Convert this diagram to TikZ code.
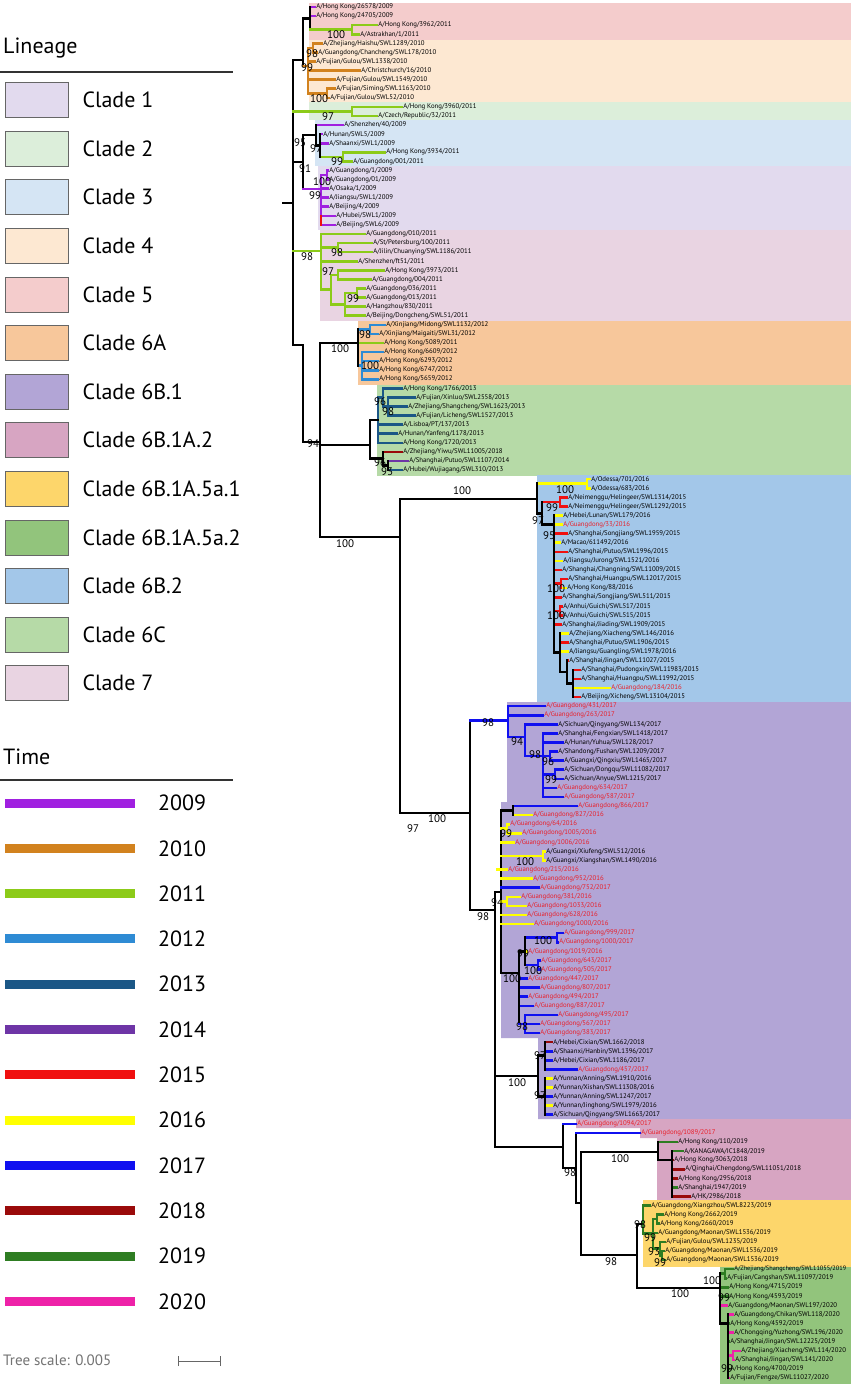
\documentclass[tikz,border=0pt]{standalone}
\usepackage{fontspec}
\setmainfont{PT Sans}
\usetikzlibrary{positioning}

\definecolor{y2009}{HTML}{A020E0}
\definecolor{y2010}{HTML}{D2821E}
\definecolor{y2011}{HTML}{8CCB19}
\definecolor{y2012}{HTML}{2E8BD4}
\definecolor{y2013}{HTML}{1B5786}
\definecolor{y2014}{HTML}{6E35A6}
\definecolor{y2015}{HTML}{F01010}
\definecolor{y2016}{HTML}{FFFF00}
\definecolor{y2017}{HTML}{1010F0}
\definecolor{y2018}{HTML}{9A0A0A}
\definecolor{y2019}{HTML}{2E7D22}
\definecolor{y2020}{HTML}{EE22A8}
\definecolor{cl1}{HTML}{E2DAEE}
\definecolor{cl2}{HTML}{DCEEDA}
\definecolor{cl3}{HTML}{D5E5F4}
\definecolor{cl4}{HTML}{FDE8D2}
\definecolor{cl5}{HTML}{F4CCCC}
\definecolor{cl6A}{HTML}{F7C79B}
\definecolor{cl6B1}{HTML}{B2A5D6}
\definecolor{cl6B1A2}{HTML}{D7A5C2}
\definecolor{cl5a1}{HTML}{FDD66B}
\definecolor{cl5a2}{HTML}{92C47C}
\definecolor{cl6B2}{HTML}{A3C7E9}
\definecolor{cl6C}{HTML}{B6DAA7}
\definecolor{cl7}{HTML}{E9D4E2}
\definecolor{redlab}{HTML}{E8202A}

\newcounter{bsn}
\newcommand\rowy[1]{7+(#1-1)*9.08}
\newcommand\tipbr[6]{%
  \draw[br,#4] (#2,{\rowy{#1}}) -- (#3,{\rowy{#1}});
  \node[tiplab,text=#6] (t#1) at (#3,{\rowy{#1}}) {#5};}
\newcommand\vln[4]{\draw[br,#4] (#1,{\rowy{#2}}) -- (#1,{\rowy{#3}});}
\newcommand\hln[4]{\draw[br,#4] (#1,{\rowy{#3}}) -- (#2,{\rowy{#3}});}
\newcommand\bsv[3]{\stepcounter{bsn}\node[bsval] (bs\thebsn) at (#1,#2) {#3};}

\tikzset{
  br/.style={line width=2.6pt, line cap=rect},
  tiplab/.style={anchor=west, inner sep=1.2pt, font=\fontsize{6.8}{6.8}\selectfont},
  bsval/.style={inner sep=0pt, font=\fontsize{11}{11}\selectfont},
  swatch/.style={draw=black!60, line width=0.8pt, minimum width=63pt, minimum height=35pt, inner sep=0pt},
  legtxt/.style={anchor=west, inner sep=0pt, font=\fontsize{22}{22}\selectfont},
  yrline/.style={line width=9pt}
}

\begin{document}
\begin{tikzpicture}[x=1pt, y=-1pt]
\useasboundingbox (0,0) rectangle (851,1387);
\fill[white] (0,0) rectangle (851,1387);

\fill[cl5] (309,3) rectangle (851,40);
\fill[cl4] (309,40) rectangle (851,102);
\fill[cl2] (309,102) rectangle (851,120);
\fill[cl3] (315,120) rectangle (851,166);
\fill[cl1] (318,166) rectangle (851,230);
\fill[cl7] (320,230) rectangle (851,321);
\fill[cl6A] (358,321) rectangle (851,385);
\fill[cl6C] (377,385) rectangle (851,476);
\fill[cl6B2] (537,475) rectangle (851,702);
\fill[cl6B1] (507,702) -- (851,702) -- (851,1119) -- (538,1119) -- (538,1038) -- (501,1038) -- (501,802) -- (507,802) -- cycle;
\fill[cl6B1A2] (576,1119) -- (851,1119) -- (851,1200) -- (657,1200) -- (657,1138) -- (640,1138) -- (640,1128) -- (576,1128) -- cycle;
\fill[cl5a1] (643,1200) rectangle (851,1267);
\fill[cl5a2] (720,1267) rectangle (851,1384);

\node[legtxt] (lin) at (3,48) {Lineage};
\draw[line width=1.3pt, black!80] (0,72) -- (233,72);
\foreach \c/\t [count=\i] in {cl1/Clade 1, cl2/Clade 2, cl3/Clade 3, cl4/Clade 4, cl5/Clade 5, cl6A/Clade 6A, cl6B1/Clade 6B.1, cl6B1A2/Clade 6B.1A.2, cl5a1/Clade 6B.1A.5a.1, cl5a2/Clade 6B.1A.5a.2, cl6B2/Clade 6B.2, cl6C/Clade 6C, cl7/Clade 7} {
  \node[swatch, fill=\c] (sw\i) at (36.5,{100+(\i-1)*48.6}) {};
  \node[legtxt, right=14pt of sw\i] (lt\i) {\t};
}
\node[legtxt] (tim) at (3,757) {Time};
\draw[line width=1.3pt, black!80] (0,780) -- (233,780);
\foreach \yr [count=\i] in {2009,2010,...,2020} {
  \coordinate (ya\i) at (5,{803+(\i-1)*45.3});
  \coordinate (yb\i) at (135,{803+(\i-1)*45.3});
  \draw[yrline, color=y\yr] (ya\i) -- (yb\i);
  \node[legtxt, right=23pt of yb\i] (yt\i) {\yr};
}
\node[anchor=west, inner sep=0pt, text=black!55, font=\fontsize{15}{15}\selectfont] (tsc) at (3,1360) {Tree scale: 0.005};
\coordinate (sca) at (178,1361);
\coordinate (scb) at (220,1361);
\draw[black!60, line width=1pt] (sca) -- (scb);
\draw[black!60, line width=1pt] ([yshift=-5pt]sca) -- ([yshift=5pt]sca);
\draw[black!60, line width=1pt] ([yshift=-5pt]scb) -- ([yshift=5pt]scb);

\draw[br] (283,203) -- (293,203);
\draw[br] (293,60) -- (293,345);
\draw[br] (293,60) -- (303,60);
\draw[br] (303,18.4) -- (303,66);
\draw[br] (303,18.4) -- (310,18.4);
\draw[br,y2010] (303,66) -- (308,66);
\draw[br] (293,162) -- (303,162);
\draw[br] (303,135) -- (303,189);
\draw[br] (303,135) -- (316,135);
\draw[br,y2009] (303,189) -- (321,189);
\draw[br,y2011] (293,251) -- (321,251);
\draw[br] (293,345) -- (303,345);
\draw[br] (303,345) -- (303,442);
\draw[br] (303,442) -- (320,442);
\draw[br] (320,343) -- (320,537);
\draw[br] (320,343) -- (358,343);
\draw[br] (320,445) -- (370,445);
\draw[br] (320,537) -- (400,537);
\draw[br] (400,499) -- (400,813);
\draw[br] (400,499) -- (537,499);
\draw[br] (400,813) -- (470,813);
\draw[br] (470,{\rowy{79.6}}) -- (470,910);
\draw[br] (470,910) -- (495,910);
\draw[br] (495,892) -- (495,1147);
\draw[br] (495,892) -- (501,892);
\draw[br] (501,{\rowy{89.5}}) -- (501,973);
\draw[br] (501,973) -- (519,973);
\draw[br] (495,1147) -- (563,1147);
\draw[br] (563,{\rowy{124}}) -- (563,1168);
\draw[br] (563,1168) -- (576,1168);
\draw[br] (576,{\rowy{125}}) -- (576,1203);
\draw[br] (576,1203) -- (581,1203);
\draw[br] (581,1152) -- (581,1255);
\draw[br] (581,1152) -- (658,1152);
\draw[br] (581,1255) -- (637,1255);
\draw[br] (637,1224) -- (637,1288);
\draw[br] (637,1224) -- (643,1224);
\draw[br] (637,1288) -- (720,1288);

\tipbr{1}{310}{315}{y2009}{A/Hong Kong/26578/2009}{black}
\tipbr{2}{310}{315}{y2009}{A/Hong Kong/24705/2009}{black}
\tipbr{3}{352}{377}{y2011}{A/Hong Kong/3962/2011}{black}
\tipbr{4}{352}{359}{y2011}{A/Astrakhan/1/2011}{black}
\vln{310}{1}{3.5}{black}
\hln{310}{352}{3.5}{y2011}
\vln{352}{3}{4}{y2011}

\tipbr{5}{313}{322}{y2010}{A/Zhejiang/Haishu/SWL1289/2010}{black}
\tipbr{6}{313}{317}{y2010}{A/Guangdong/Chancheng/SWL178/2010}{black}
\tipbr{7}{308}{315}{y2010}{A/Fujian/Gulou/SWL1338/2010}{black}
\tipbr{8}{308}{360}{y2010}{A/Christchurch/16/2010}{black}
\tipbr{9}{308}{335}{y2010}{A/Fujian/Gulou/SWL1549/2010}{black}
\tipbr{10}{327}{335}{y2010}{A/Fujian/Siming/SWL1163/2010}{black}
\tipbr{11}{327}{329}{y2010}{A/Fujian/Gulou/SWL52/2010}{black}
\vln{313}{5}{6}{y2010}
\hln{308}{313}{5.5}{y2010}
\vln{327}{10}{11}{y2010}
\hln{308}{327}{10.5}{y2010}
\vln{308}{5.5}{10.5}{y2010}

\tipbr{12}{352}{402}{y2011}{A/Hong Kong/3960/2011}{black}
\tipbr{13}{352}{377}{y2011}{A/Czech/Republic/32/2011}{black}
\vln{352}{12}{13}{y2011}
\hln{293}{352}{12.5}{y2011}

\tipbr{14}{316}{343}{y2009}{A/Shenzhen/40/2009}{black}
\tipbr{15}{320}{322}{y2009}{A/Hunan/SWL5/2009}{black}
\tipbr{16}{320}{328}{y2009}{A/Shaanxi/SWL1/2009}{black}
\tipbr{17}{343}{385}{y2011}{A/Hong Kong/3934/2011}{black}
\tipbr{18}{343}{352}{y2011}{A/Guangdong/001/2011}{black}
\vln{343}{17}{18}{y2011}
\hln{320}{343}{17.5}{y2011}
\vln{320}{15}{17.5}{black}
\hln{316}{320}{16.25}{black}
\vln{316}{14}{16.25}{black}

\tipbr{19}{327}{328}{y2009}{A/Guangdong/1/2009}{black}
\tipbr{20}{327}{328}{y2009}{A/Guangdong/01/2009}{black}
\tipbr{21}{321}{328}{y2009}{A/Osaka/1/2009}{black}
\tipbr{22}{321}{328}{y2009}{A/Jiangsu/SWL1/2009}{black}
\tipbr{23}{321}{328}{y2009}{A/Beijing/4/2009}{black}
\tipbr{24}{321}{335}{y2009}{A/Hubei/SWL1/2009}{black}
\tipbr{25}{321}{335}{y2009}{A/Beijing/SWL6/2009}{black}
\vln{327}{19}{20}{y2009}
\hln{321}{327}{19.5}{y2009}
\vln{321}{19.5}{24}{y2009}
\vln{321}{24}{25}{y2015}

\tipbr{26}{321}{365}{y2011}{A/Guangdong/010/2011}{black}
\tipbr{27}{338}{372}{y2011}{A/St/Petersburg/100/2011}{black}
\tipbr{28}{338}{372}{y2011}{A/Jilin/Chuanying/SWL1186/2011}{black}
\tipbr{29}{321}{357}{y2011}{A/Shenzhen/ft51/2011}{black}
\tipbr{30}{338}{384}{y2011}{A/Hong Kong/3973/2011}{black}
\tipbr{31}{338}{371}{y2011}{A/Guangdong/004/2011}{black}
\tipbr{32}{357}{365}{y2011}{A/Guangdong/036/2011}{black}
\tipbr{33}{357}{365}{y2011}{A/Guangdong/013/2011}{black}
\tipbr{34}{345}{365}{y2011}{A/Hangzhou/830/2011}{black}
\tipbr{35}{345}{365}{y2011}{A/Beijing/Dongcheng/SWL51/2011}{black}
\vln{338}{27}{28}{y2011}
\hln{321}{338}{27.5}{y2011}
\vln{338}{30}{31}{y2011}
\hln{331}{338}{30.5}{y2011}
\vln{357}{32}{33}{y2011}
\hln{345}{357}{32.5}{y2011}
\vln{345}{32.5}{35}{y2011}
\hln{331}{345}{33.75}{y2011}
\vln{331}{30.5}{33.75}{y2011}
\hln{321}{331}{32.1}{y2011}
\vln{321}{26}{32.1}{y2011}

\tipbr{36}{370}{385}{y2012}{A/Xinjiang/Midong/SWL1132/2012}{black}
\tipbr{37}{370}{378}{y2012}{A/Xinjiang/Maigaiti/SWL31/2012}{black}
\tipbr{38}{358}{383}{y2011}{A/Hong Kong/5089/2011}{black}
\tipbr{39}{362}{383}{y2012}{A/Hong Kong/6609/2012}{black}
\tipbr{40}{362}{378}{y2012}{A/Hong Kong/6293/2012}{black}
\tipbr{41}{362}{378}{y2012}{A/Hong Kong/6747/2012}{black}
\tipbr{42}{362}{378}{y2012}{A/Hong Kong/5659/2012}{black}
\vln{370}{36}{37}{y2012}
\hln{358}{370}{36.5}{y2012}
\vln{362}{39}{42}{y2012}
\hln{358}{362}{40.5}{y2012}
\vln{358}{36.5}{40.5}{black}

\tipbr{43}{383}{402}{y2013}{A/Hong Kong/1766/2013}{black}
\tipbr{44}{388}{415}{y2013}{A/Fujian/Xinluo/SWL2558/2013}{black}
\tipbr{45}{388}{407}{y2013}{A/Zhejiang/Shangcheng/SWL1623/2013}{black}
\tipbr{46}{388}{415}{y2013}{A/Fujian/Licheng/SWL1527/2013}{black}
\tipbr{47}{378}{402}{y2013}{A/Lisboa/PT/137/2013}{black}
\tipbr{48}{378}{397}{y2013}{A/Hunan/Yanfeng/1178/2013}{black}
\tipbr{49}{378}{402}{y2013}{A/Hong Kong/1720/2013}{black}
\tipbr{50}{383}{402}{y2018}{A/Zhejiang/Yiwu/SWL11005/2018}{black}
\tipbr{51}{388}{408}{y2014}{A/Shanghai/Putuo/SWL1107/2014}{black}
\tipbr{52}{388}{402}{y2013}{A/Hubei/Wujiagang/SWL310/2013}{black}
\vln{388}{44}{46}{y2013}
\hln{383}{388}{45}{y2013}
\vln{383}{43}{45}{y2013}
\hln{378}{383}{44}{y2013}
\vln{378}{44}{49}{y2013}
\vln{388}{51}{52}{black}
\hln{383}{388}{51.5}{black}
\vln{383}{50}{51.5}{black}
\vln{370}{46.5}{50.75}{black}
\hln{370}{378}{46.5}{black}
\hln{370}{383}{50.75}{black}

\tipbr{53}{587}{590}{y2016}{A/Odessa/701/2016}{black}
\tipbr{54}{587}{590}{y2016}{A/Odessa/683/2016}{black}
\tipbr{55}{560}{567}{y2015}{A/Neimenggu/Helingeer/SWL1314/2015}{black}
\tipbr{56}{560}{567}{y2015}{A/Neimenggu/Helingeer/SWL1292/2015}{black}
\tipbr{57}{554}{562}{y2016}{A/Hebei/Lunan/SWL179/2016}{black}
\tipbr{58}{554}{562}{y2016}{A/Guangdong/33/2016}{redlab}
\tipbr{59}{554}{567}{y2015}{A/Shanghai/Songjiang/SWL1959/2015}{black}
\tipbr{60}{554}{560}{y2016}{A/Macao/611492/2016}{black}
\tipbr{61}{554}{567}{y2015}{A/Shanghai/Putuo/SWL1996/2015}{black}
\tipbr{62}{554}{562}{y2016}{A/Jiangsu/Jurong/SWL1521/2016}{black}
\tipbr{63}{554}{561}{y2015}{A/Shanghai/Changning/SWL11009/2015}{black}
\tipbr{64}{561}{567}{y2015}{A/Shanghai/Huangpu/SWL12017/2015}{black}
\tipbr{65}{561}{566}{y2016}{A/Hong Kong/88/2016}{black}
\tipbr{66}{554}{561}{y2015}{A/Shanghai/Songjiang/SWL511/2015}{black}
\tipbr{67}{560}{562}{y2015}{A/Anhui/Guichi/SWL517/2015}{black}
\tipbr{68}{560}{562}{y2015}{A/Anhui/Guichi/SWL515/2015}{black}
\tipbr{69}{554}{561}{y2015}{A/Shanghai/Jiading/SWL1909/2015}{black}
\tipbr{70}{560}{568}{y2016}{A/Zhejiang/Xiacheng/SWL146/2016}{black}
\tipbr{71}{560}{568}{y2015}{A/Shanghai/Putuo/SWL1906/2015}{black}
\tipbr{72}{560}{568}{y2016}{A/Jiangsu/Guangling/SWL1978/2016}{black}
\tipbr{73}{567}{568}{y2015}{A/Shanghai/Jingan/SWL11027/2015}{black}
\tipbr{74}{573}{580}{y2015}{A/Shanghai/Pudongxin/SWL11983/2015}{black}
\tipbr{75}{573}{580}{y2015}{A/Shanghai/Huangpu/SWL11992/2015}{black}
\tipbr{76}{573}{610}{y2016}{A/Guangdong/184/2016}{redlab}
\tipbr{77}{573}{580}{y2015}{A/Beijing/Xicheng/SWL13104/2015}{black}
\vln{587}{53}{54}{y2016}
\hln{537}{587}{53.5}{y2016}
\vln{560}{55}{56}{y2015}
\hln{542}{560}{55.5}{y2015}
\vln{561}{64}{65}{y2015}
\hln{554}{561}{64.5}{y2015}
\vln{560}{67}{68}{y2015}
\hln{554}{560}{67.5}{y2015}
\vln{573}{74}{77}{black}
\hln{567}{573}{75.5}{black}
\vln{567}{73}{75.5}{black}
\hln{560}{567}{74.25}{black}
\vln{560}{70}{74.25}{black}
\hln{554}{560}{72.1}{black}
\vln{554}{57}{72.1}{black}
\hln{542}{554}{58}{black}
\vln{542}{55.5}{58}{black}
\hln{537}{542}{56.75}{black}
\vln{537}{53.5}{56.75}{black}

\tipbr{78}{508}{545}{y2017}{A/Guangdong/431/2017}{redlab}
\tipbr{79}{508}{543}{y2017}{A/Guangdong/263/2017}{redlab}
\tipbr{80}{525}{557}{y2017}{A/Sichuan/Qingyang/SWL134/2017}{black}
\tipbr{81}{543}{557}{y2017}{A/Shanghai/Fengxian/SWL1418/2017}{black}
\tipbr{82}{543}{563}{y2017}{A/Hunan/Yuhua/SWL128/2017}{black}
\tipbr{83}{550}{557}{y2017}{A/Shandong/Fushan/SWL1209/2017}{black}
\tipbr{84}{550}{563}{y2017}{A/Guangxi/Qingxiu/SWL1465/2017}{black}
\tipbr{85}{555}{563}{y2017}{A/Sichuan/Dongqu/SWL11082/2017}{black}
\tipbr{86}{555}{563}{y2017}{A/Sichuan/Anyue/SWL1215/2017}{black}
\tipbr{87}{543}{556}{y2017}{A/Guangdong/634/2017}{redlab}
\tipbr{88}{543}{563}{y2017}{A/Guangdong/587/2017}{redlab}
\vln{550}{83}{84}{y2017}
\hln{543}{550}{83.5}{y2017}
\vln{555}{85}{86}{y2017}
\hln{543}{555}{85.5}{y2017}
\vln{543}{81}{88}{y2017}
\hln{525}{543}{83.5}{y2017}
\vln{525}{80}{83.5}{y2017}
\hln{508}{525}{81.4}{y2017}
\vln{508}{78}{81.4}{y2017}
\hln{470}{508}{79.6}{y2017}

\tipbr{89}{513}{577}{y2017}{A/Guangdong/866/2017}{redlab}
\tipbr{90}{513}{532}{y2016}{A/Guangdong/827/2016}{redlab}
\tipbr{91}{507}{509}{y2016}{A/Guangdong/64/2016}{redlab}
\tipbr{92}{507}{521}{y2016}{A/Guangdong/1005/2016}{redlab}
\tipbr{93}{501}{514}{y2016}{A/Guangdong/1006/2016}{redlab}
\tipbr{94}{543}{545}{y2016}{A/Guangxi/Xiufeng/SWL512/2016}{black}
\tipbr{95}{543}{545}{y2016}{A/Guangxi/Xiangshan/SWL1490/2016}{black}
\tipbr{96}{497}{507}{y2016}{A/Guangdong/215/2016}{redlab}
\tipbr{97}{501}{532}{y2016}{A/Guangdong/952/2016}{redlab}
\tipbr{98}{501}{539}{y2017}{A/Guangdong/752/2017}{redlab}
\tipbr{99}{507}{520}{y2016}{A/Guangdong/381/2016}{redlab}
\tipbr{100}{507}{526}{y2016}{A/Guangdong/1033/2016}{redlab}
\tipbr{101}{501}{526}{y2016}{A/Guangdong/628/2016}{redlab}
\tipbr{102}{501}{533}{y2016}{A/Guangdong/1000/2016}{redlab}
\tipbr{103}{557}{563}{y2017}{A/Guangdong/999/2017}{redlab}
\tipbr{104}{557}{558}{y2017}{A/Guangdong/1000/2017}{redlab}
\tipbr{105}{525}{527}{y2016}{A/Guangdong/1019/2016}{redlab}
\tipbr{106}{538}{540}{y2017}{A/Guangdong/643/2017}{redlab}
\tipbr{107}{538}{540}{y2017}{A/Guangdong/505/2017}{redlab}
\tipbr{108}{519}{527}{y2017}{A/Guangdong/447/2017}{redlab}
\tipbr{109}{519}{539}{y2017}{A/Guangdong/807/2017}{redlab}
\tipbr{110}{519}{527}{y2017}{A/Guangdong/494/2017}{redlab}
\tipbr{111}{519}{533}{y2017}{A/Guangdong/887/2017}{redlab}
\tipbr{112}{525}{557}{y2017}{A/Guangdong/495/2017}{redlab}
\tipbr{113}{525}{539}{y2017}{A/Guangdong/567/2017}{redlab}
\tipbr{114}{525}{539}{y2017}{A/Guangdong/383/2017}{redlab}
\vln{513}{89}{90}{black}
\hln{501}{513}{89.5}{black}
\vln{507}{91}{92}{y2016}
\hln{501}{507}{91.5}{y2016}
\vln{543}{94}{95}{y2016}
\hln{501}{543}{94.5}{y2016}
\vln{507}{99}{100}{y2016}
\hln{501}{507}{99.5}{y2016}
\vln{557}{103}{104}{y2017}
\hln{525}{557}{103.5}{y2017}
\vln{538}{106}{107}{y2017}
\hln{525}{538}{106.5}{y2017}
\vln{525}{103.5}{106.5}{black}
\hln{519}{525}{105}{black}
\vln{519}{105}{113}{black}
\vln{525}{112}{114}{y2017}
\hln{519}{525}{113}{y2017}

\tipbr{115}{545}{552}{y2018}{A/Hebei/Cixian/SWL1662/2018}{black}
\tipbr{116}{545}{552}{y2017}{A/Shaanxi/Hanbin/SWL1396/2017}{black}
\tipbr{117}{545}{552}{y2017}{A/Hebei/Cixian/SWL1186/2017}{black}
\tipbr{118}{545}{577}{y2017}{A/Guangdong/457/2017}{redlab}
\tipbr{119}{545}{552}{y2016}{A/Yunnan/Anning/SWL1910/2016}{black}
\tipbr{120}{545}{552}{y2016}{A/Yunnan/Xishan/SWL11308/2016}{black}
\tipbr{121}{545}{552}{y2017}{A/Yunnan/Anning/SWL1247/2017}{black}
\tipbr{122}{545}{552}{y2016}{A/Yunnan/Jinghong/SWL1979/2016}{black}
\tipbr{123}{545}{552}{y2017}{A/Sichuan/Qingyang/SWL1663/2017}{black}
\vln{545}{115}{118}{black}
\hln{538}{545}{116.5}{black}
\vln{545}{119}{123}{black}
\hln{538}{545}{121}{black}
\vln{538}{116.5}{121}{black}
\hln{495}{538}{118.75}{black}

\tipbr{124}{563}{576}{y2017}{A/Guangdong/1094/2017}{redlab}
\tipbr{125}{576}{640}{y2017}{A/Guangdong/1089/2017}{redlab}
\tipbr{126}{658}{677}{y2019}{A/Hong Kong/110/2019}{black}
\tipbr{127}{672}{683}{y2019}{A/KANAGAWA/IC1848/2019}{black}
\tipbr{128}{672}{673}{y2018}{A/Hong Kong/3063/2018}{black}
\tipbr{129}{672}{684}{y2018}{A/Qinghai/Chengdong/SWL11051/2018}{black}
\tipbr{130}{672}{677}{y2018}{A/Hong Kong/2956/2018}{black}
\tipbr{131}{672}{677}{y2019}{A/Shanghai/1947/2019}{black}
\tipbr{132}{672}{690}{y2018}{A/HK/2986/2018}{black}
\vln{658}{126}{128}{black}
\hln{658}{672}{128}{black}
\vln{672}{127}{132}{black}

\tipbr{133}{643}{650}{y2019}{A/Guangdong/Xiangzhou/SWL8223/2019}{black}
\tipbr{134}{657}{663}{y2019}{A/Hong Kong/2662/2019}{black}
\tipbr{135}{657}{659}{y2019}{A/Hong Kong/2660/2019}{black}
\tipbr{136}{653}{657}{y2019}{A/Guangdong/Maonan/SWL1536/2019}{black}
\tipbr{137}{660}{665}{y2019}{A/Fujian/Gulou/SWL1235/2019}{black}
\tipbr{138}{662}{664}{y2019}{A/Guangdong/Maonan/SWL1536/2019}{black}
\tipbr{139}{662}{665}{y2019}{A/Guangdong/Maonan/SWL1536/2019}{black}
\vln{657}{134}{135}{y2019}
\hln{653}{657}{134.5}{y2019}
\vln{662}{138}{139}{y2019}
\hln{660}{662}{138.5}{y2019}
\vln{660}{137}{138.5}{y2019}
\hln{653}{660}{137.75}{y2019}
\vln{653}{134.5}{137.75}{y2019}
\hln{643}{653}{136.1}{y2019}
\vln{643}{133}{136.1}{y2019}

\tipbr{140}{725}{733}{y2019}{\fontsize{6.3}{6.3}\selectfont A/Zhejiang/Shangcheng/SWL11055/2019}{black}
\tipbr{141}{725}{726}{y2019}{A/Fujian/Cangshan/SWL11097/2019}{black}
\tipbr{142}{720}{728}{y2019}{A/Hong Kong/4715/2019}{black}
\tipbr{143}{720}{728}{y2019}{A/Hong Kong/4593/2019}{black}
\tipbr{144}{720}{727}{y2020}{A/Guangdong/Maonan/SWL197/2020}{black}
\tipbr{145}{728}{733}{y2020}{A/Guangdong/Chikan/SWL118/2020}{black}
\tipbr{146}{728}{729}{y2019}{A/Hong Kong/4592/2019}{black}
\tipbr{147}{728}{733}{y2020}{A/Chongqing/Yuzhong/SWL196/2020}{black}
\tipbr{148}{728}{729}{y2019}{A/Shanghai/Jingan/SWL12225/2019}{black}
\tipbr{149}{733}{740}{y2020}{A/Zhejiang/Xiacheng/SWL114/2020}{black}
\tipbr{150}{733}{734}{y2020}{A/Shanghai/Jingan/SWL141/2020}{black}
\tipbr{151}{728}{729}{y2019}{A/Hong Kong/4700/2019}{black}
\tipbr{152}{728}{729}{y2020}{A/Fujian/Fengze/SWL11027/2020}{black}
\vln{725}{140}{141}{y2019}
\hln{720}{725}{140.5}{y2019}
\vln{733}{149}{150}{y2020}
\hln{728}{733}{149.5}{y2020}
\vln{728}{145}{152}{black}
\hln{720}{728}{146}{black}
\vln{720}{140.5}{146}{black}

\bsv{336}{34.5}{100}
\bsv{312}{54}{98}
\bsv{307}{68}{99}
\bsv{319}{99}{100}
\bsv{328}{117}{97}
\bsv{300}{143}{95}
\bsv{316}{149}{97}
\bsv{337}{162}{99}
\bsv{305}{169}{91}
\bsv{322}{182}{100}
\bsv{315}{196}{99}
\bsv{307}{257}{98}
\bsv{337}{253}{98}
\bsv{328}{272}{97}
\bsv{353}{299}{99}
\bsv{365}{335}{98}
\bsv{340}{349}{100}
\bsv{370}{366}{100}
\bsv{380}{402}{96}
\bsv{388}{412}{98}
\bsv{313}{444}{94}
\bsv{380}{463}{96}
\bsv{387}{472}{93}
\bsv{462}{491}{100}
\bsv{565}{490}{100}
\bsv{552}{508}{99}
\bsv{538}{521}{97}
\bsv{549}{536}{95}
\bsv{345}{544}{100}
\bsv{556}{589}{100}
\bsv{556}{616}{100}
\bsv{488}{723}{98}
\bsv{517}{742}{94}
\bsv{535}{755}{98}
\bsv{548}{762}{96}
\bsv{551}{780}{99}
\bsv{437}{819}{100}
\bsv{413}{829}{97}
\bsv{506}{834}{99}
\bsv{525}{862}{100}
\bsv{497}{903}{94}
\bsv{483}{917}{98}
\bsv{543}{941}{100}
\bsv{523}{954}{99}
\bsv{533}{971}{100}
\bsv{512}{979}{100}
\bsv{522}{1027}{98}
\bsv{540}{1056}{97}
\bsv{517}{1083}{100}
\bsv{540}{1096}{97}
\bsv{620}{1159}{100}
\bsv{570}{1173}{98}
\bsv{640}{1225}{98}
\bsv{650}{1238}{99}
\bsv{654}{1252}{93}
\bsv{660}{1263}{99}
\bsv{611}{1262}{98}
\bsv{712}{1281}{100}
\bsv{680}{1294}{100}
\bsv{724}{1298}{99}
\bsv{727}{1369}{99}
\end{tikzpicture}
\end{document}
